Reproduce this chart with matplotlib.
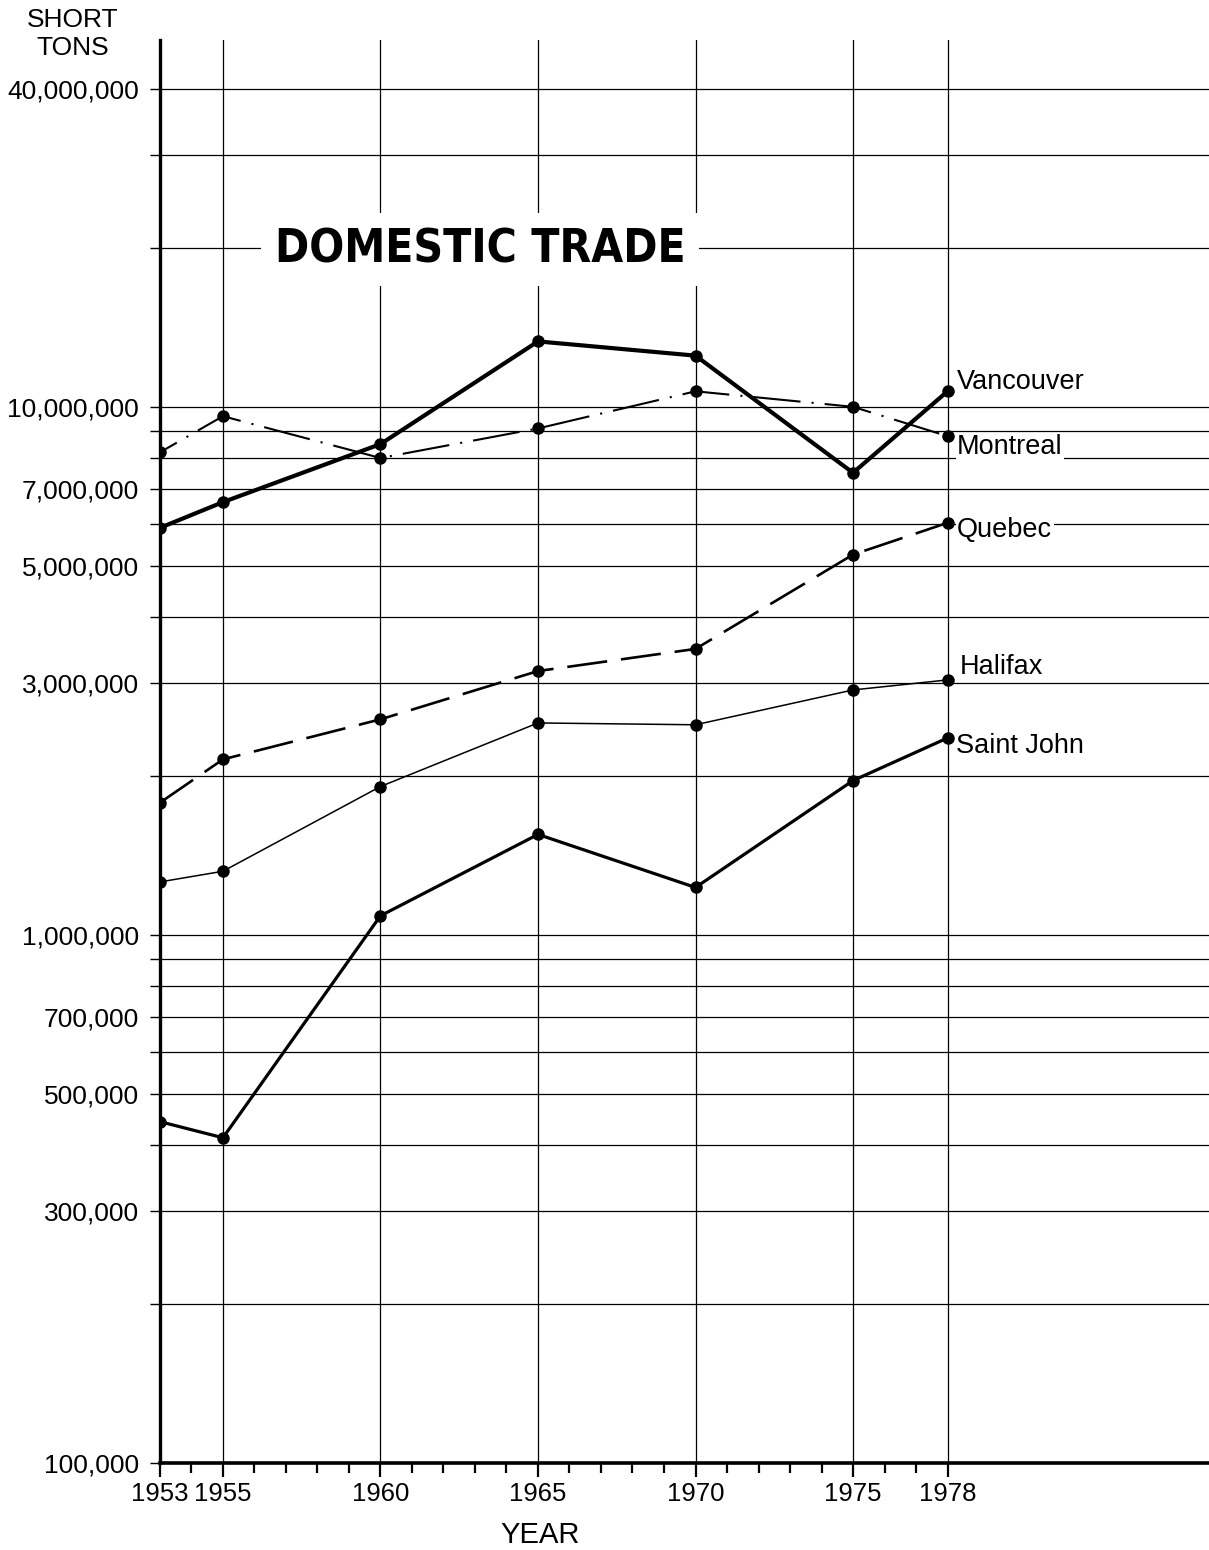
"""Domestic trade tonnage by port, 1953-1978 (log scale)."""

import matplotlib
matplotlib.use("Agg")
import matplotlib.pyplot as plt
from matplotlib.ticker import FixedLocator, FixedFormatter

plt.rcParams["font.family"] = ["Liberation Sans", "DejaVu Sans"]
plt.rcParams["lines.scale_dashes"] = False

years = [1953, 1955, 1960, 1965, 1970, 1975, 1978]

vancouver = [5.9e6, 6.6e6, 8.5e6, 13.3e6, 12.5e6, 7.5e6, 10.7e6]
montreal = [8.2e6, 9.6e6, 8.0e6, 9.1e6, 10.7e6, 10.0e6, 8.8e6]
quebec = [1.78e6, 2.15e6, 2.56e6, 3.16e6, 3.48e6, 5.25e6, 6.03e6]
halifax = [1.26e6, 1.32e6, 1.91e6, 2.52e6, 2.50e6, 2.91e6, 3.04e6]
saint_john = [443e3, 413e3, 1.087e6, 1.55e6, 1.23e6, 1.96e6, 2.36e6]

grid_values = [1e5, 2e5, 3e5, 4e5, 5e5, 6e5, 7e5, 8e5, 9e5,
               1e6, 2e6, 3e6, 4e6, 5e6, 6e6, 7e6, 8e6, 9e6,
               1e7, 2e7, 3e7, 4e7]
labelled = {1e5: "100,000", 3e5: "300,000", 5e5: "500,000", 7e5: "700,000",
            1e6: "1,000,000", 3e6: "3,000,000", 5e6: "5,000,000",
            7e6: "7,000,000", 1e7: "10,000,000", 4e7: "40,000,000"}

condensed = dict(family="DejaVu Sans", stretch="condensed")

fig = plt.figure(figsize=(12.09, 15.5), dpi=100)
ax = fig.add_axes([0.1323, 0.0561, 0.8677, 0.9181])
ax.set_yscale("log")
ax.set_xlim(1953, 1986.3)
ax.set_ylim(1e5, 4.95e7)

# series: (name, values, style, label offset in points)
series = [
    ("Vancouver", vancouver, dict(lw=3.0, ls="-"), (7, 7)),
    ("Montreal", montreal, dict(lw=1.5, ls=(20, (34, 8, 1.5, 8))), (7, -8)),
    ("Quebec", quebec, dict(lw=1.9, ls=(0, (29, 10))), (7, -5)),
    ("Halifax", halifax, dict(lw=1.1, ls="-"), (9, 9)),
    ("Saint John", saint_john, dict(lw=2.3, ls="-"), (6, -6)),
]
for name, vals, style, off in series:
    ax.plot(years, vals, color="black", marker="o", markersize=8,
            zorder=4, solid_joinstyle="round", **style)
    ax.annotate(name, (years[-1], vals[-1]), xytext=off,
                textcoords="offset points", ha="left", va="center",
                fontsize=19.5, zorder=5,
                bbox=dict(facecolor="white", edgecolor="none", pad=1))

# axes and grid
ax.yaxis.set_major_locator(FixedLocator(grid_values))
ax.yaxis.set_major_formatter(FixedFormatter([labelled.get(v, "") for v in grid_values]))
ax.yaxis.set_minor_locator(FixedLocator([]))
ax.set_xticks(years)
ax.set_xticks(range(1953, 1979), minor=True)
ax.tick_params(axis="y", direction="out", length=7, width=1.0, pad=8, labelsize=19)
ax.tick_params(axis="x", which="major", direction="out", length=10, width=1.6,
               pad=4, labelsize=18.5)
ax.tick_params(axis="x", which="minor", direction="out", length=7, width=1.6)
ax.set_xticklabels([str(y) for y in years], fontsize=18.5)
ax.grid(True, which="major", color="black", linewidth=0.9)
ax.set_axisbelow(True)

for side in ("top", "right"):
    ax.spines[side].set_visible(False)
ax.spines["left"].set_linewidth(2.4)
ax.spines["bottom"].set_linewidth(2.6)

fig.text(0.06, 0.978, "SHORT\nTONS", ha="center", va="center",
         fontsize=19, linespacing=1.2)
fig.text(0.447, 0.0097, "YEAR", ha="center", va="center", fontsize=21)
fig.text(0.397, 0.839, "DOMESTIC TRADE", ha="center", va="center",
         fontsize=33, fontweight="bold", zorder=6, **condensed,
         bbox=dict(facecolor="white", edgecolor="none", boxstyle="square,pad=0.3"))

fig.savefig("out.png", dpi=100)
